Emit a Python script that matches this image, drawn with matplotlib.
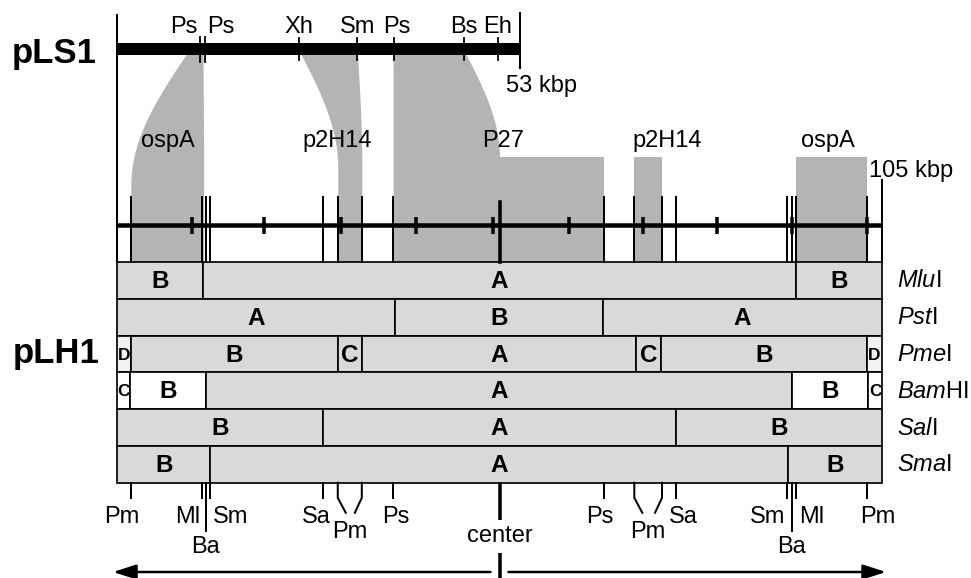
import numpy as np
import matplotlib
matplotlib.use('Agg')
import matplotlib.pyplot as plt
from matplotlib.patches import Rectangle

plt.rcParams['font.family'] = 'Liberation Sans'
plt.rcParams['mathtext.fontset'] = 'custom'
plt.rcParams['mathtext.rm'] = 'Liberation Sans'
plt.rcParams['mathtext.it'] = 'Liberation Sans:italic'

# ---- data (kbp) ----
lh1_len = 105
lh1_scale_ticks = [10.3, 20.2, 30.7, 41.0, 51.6, 62.0, 72.2, 82.3, 92.6, 102.9]
lh1_sites = ['Pm', 'Ml', 'Ba', 'Sm', 'Sa', 'Pm', 'Pm', 'Ps',
             'Ps', 'Pm', 'Pm', 'Sa', 'Sm', 'Ba', 'Ml', 'Pm']
lh1_site_pos = [1.9, 11.7, 12.2, 12.8, 28.3, 30.3, 33.6, 37.9,
                66.8, 71.0, 74.8, 76.7, 92.0, 92.6, 93.2, 102.9]

ls1_len = 53
ls1_sites = ['Ps', 'Ps', 'Xh', 'Sm', 'Ps', 'Bs', 'Eh']
ls1_site_pos = [10.9, 11.6, 23.9, 31.6, 36.4, 45.6, 50.1]

enzymes = [r'$\mathit{Mlu}$I', r'$\mathit{Pst}$I', r'$\mathit{Pme}$I',
           r'$\mathit{Bam}$HI', r'$\mathit{Sal}$I', r'$\mathit{Sma}$I']
cuts = [[11.8, 93.2],
        [38.1, 66.7],
        [1.9, 30.3, 33.6, 71.2, 74.7, 102.9],
        [1.8, 12.2, 92.6, 103.1],
        [28.3, 76.7],
        [12.8, 92.1]]
frag_labels = [['B', 'A', 'B'],
               ['A', 'B', 'A'],
               ['D', 'B', 'C', 'A', 'C', 'B', 'D'],
               ['C', 'B', 'A', 'B', 'C'],
               ['B', 'A', 'B'],
               ['B', 'A', 'B']]
frag_fill = [['g', 'g', 'g'],
             ['g', 'g', 'g'],
             ['w2', 'g', 'g', 'g', 'g', 'g', 'w2'],
             ['w', 'w', 'g', 'w', 'w'],
             ['g', 'g', 'g'],
             ['g', 'g', 'g']]

genes = ['ospA', 'p2H14', 'P27', 'p2H14', 'ospA']
gene_pos = [7.0, 30.2, 53.0, 75.5, 97.6]

# homology: pLS1 segment -> pLH1 segment, and repeated copies on pLH1
band_ls1 = [(9.5, 11.3), (23.9, 31.6), (36.3, 45.6)]
band_lh1 = [(1.9, 11.9), (30.3, 33.6), (37.9, 52.5)]
repeat_lh1 = [(52.5, 66.8), (71.0, 74.8), (93.2, 102.9)]

# ---- layout (pixels) ----
W, H = 971, 578
x0, ppk = 117, 7.286          # pLH1 origin and px per kbp
ls1_draw = 55.3               # pLS1 drawn length in pLH1 units
s1 = ls1_draw / ls1_len
px = 0.72                     # 1 pixel in points
shade = '#b4b4b4'
fills = {'g': '#d9d9d9', 'w': 'white', 'w2': '#f2f2f2'}
fs = 17

fig = plt.figure(figsize=(W / 100, H / 100), dpi=100)
ax = fig.add_axes([0, 0, 1, 1])
ax.set_xlim(-x0 / ppk, (W - x0) / ppk)
ax.set_ylim(H, 0)
ax.axis('off')

def dx(p):
    return p / ppk

track_y, site_top, box_top, row_h = 225, 197, 262, 36.8
box_bot = box_top + row_h * len(enzymes)

# homology shading
band_top = 50
band_end = [185, 168, 158]
for (a0, a1), (b0, b1), ye in zip(band_ls1, band_lh1, band_end):
    y = np.linspace(band_top, ye, 80)
    f = np.sin((y - band_top) / (ye - band_top) * np.pi / 2)
    xl = a0 * s1 + (b0 - a0 * s1) * f
    xr = a1 * s1 + (b1 - a1 * s1) * f
    y = np.append(y, box_top)
    xl = np.append(xl, b0)
    xr = np.append(xr, b1)
    ax.fill_betweenx(y, xl, xr, color=shade, lw=0, zorder=1)
for a, b in repeat_lh1:
    ax.add_patch(Rectangle((a, 157), b - a, box_top - 157, color=shade, lw=0, zorder=1))

# pLS1 map
ax.add_patch(Rectangle((0, 43), ls1_draw, 12, color='k', lw=0, zorder=3))
ax.plot([0, 0], [15, box_top], color='k', lw=2 * px, zorder=3)
ax.plot([ls1_draw, ls1_draw], [13, 68], color='k', lw=2 * px, zorder=3)
ls1_ha = ['right', 'left', 'center', 'center', 'center', 'center', 'center']
ls1_dx = [-2, 2, 0, 0, 3, 0, 0]
for i, (name, p) in enumerate(zip(ls1_sites, ls1_site_pos)):
    top = 37 if i < 2 else 38
    bot = 62 if i < 2 else 60
    ax.plot([p * s1, p * s1], [top, bot], color='k', lw=1.8 * px, zorder=3)
    ax.text(p * s1 + dx(ls1_dx[i]), 33, name, ha=ls1_ha[i], va='baseline', fontsize=fs)
ax.text(ls1_draw - dx(14), 92, '53 kbp', ha='left', va='baseline', fontsize=fs)
ax.text(-x0 / ppk + dx(54), 63, 'pLS1', ha='center', va='baseline', fontsize=25, fontweight='bold')

# pLH1 map line
ax.plot([0, lh1_len], [track_y, track_y], color='k', lw=4.5 * px, zorder=3, solid_capstyle='butt')
for t in lh1_scale_ticks:
    ax.plot([t, t], [217, 234], color='k', lw=3.5 * px, zorder=3, solid_capstyle='butt')
for p in lh1_site_pos:
    ax.plot([p, p], [site_top, box_top], color='k', lw=2 * px, zorder=3)
ax.plot([lh1_len / 2, lh1_len / 2], [202, box_top], color='k', lw=3.5 * px, zorder=3)
ax.plot([lh1_len, lh1_len], [180, box_top], color='k', lw=2 * px, zorder=3)
ax.text(lh1_len - dx(13), 177, '105 kbp', ha='left', va='baseline', fontsize=fs)
for g, p in zip(genes, gene_pos):
    ax.text(p, 147, g, ha='center', va='baseline', fontsize=fs, zorder=4)

# restriction fragment rows
for r, (name, c, labs, fl) in enumerate(zip(enzymes, cuts, frag_labels, frag_fill)):
    y = box_top + r * row_h
    edges = [0] + c + [lh1_len]
    for k in range(len(labs)):
        a, b = edges[k], edges[k + 1]
        ax.add_patch(Rectangle((a, y), b - a, row_h, facecolor=fills[fl[k]],
                               edgecolor='k', lw=1.7 * px, zorder=2))
        small = (b - a) < 2.5
        ax.text((a + b) / 2, y + row_h / 2 + 1, labs[k], ha='center', va='center',
                fontsize=12.5 if small else 17.5, fontweight='bold', zorder=4)
    ax.text(lh1_len + dx(15), y + row_h / 2 + 1, name, ha='left', va='center', fontsize=fs)
ax.text(-x0 / ppk + dx(56), 363, 'pLH1', ha='center', va='baseline', fontsize=25, fontweight='bold')

# bottom site ticks and labels
pairs = [(5, 6), (9, 10)]
paired = [i for pr in pairs for i in pr]
tick_bot = box_bot + 15
for i, p in enumerate(lh1_site_pos):
    if lh1_sites[i] == 'Ba':
        ax.plot([p, p], [box_bot, box_bot + 48], color='k', lw=2 * px, zorder=3)
    elif i not in paired:
        ax.plot([p, p], [box_bot, tick_bot], color='k', lw=2 * px, zorder=3)
for i, j in pairs:
    pi, pj = lh1_site_pos[i], lh1_site_pos[j]
    ax.plot([pi, pi, pi + dx(8)], [box_bot, tick_bot, tick_bot + 15], color='k', lw=2 * px, zorder=3)
    ax.plot([pj, pj, pj - dx(7)], [box_bot, tick_bot, tick_bot + 15], color='k', lw=2 * px, zorder=3)
    ax.text((pi + pj) / 2, 538, 'Pm', ha='center', va='baseline', fontsize=fs)

lab_dx = [-9, -2, 0, 3, -7, 0, 0, 3, -4, 0, 0, 7, -2, 0, 3, 11]
lab_ha = ['center', 'right', 'center', 'left', 'center', 'center', 'center', 'center',
          'center', 'center', 'center', 'center', 'right', 'center', 'left', 'center']
for i, (name, p) in enumerate(zip(lh1_sites, lh1_site_pos)):
    if i in paired:
        continue
    base = 553 if name == 'Ba' else 523
    ax.text(p + dx(lab_dx[i]), base, name, ha=lab_ha[i], va='baseline', fontsize=fs)

c = lh1_len / 2
ax.plot([c, c], [box_bot, 520], color='k', lw=3.5 * px, zorder=3, solid_capstyle='butt')
ax.text(c, 542, 'center', ha='center', va='baseline', fontsize=fs)
ax.plot([c, c], [553, H], color='k', lw=3.5 * px, zorder=3, solid_capstyle='butt')

# arrows
arrow_y = 572
gap = dx(9)
for tip, start in [(-dx(4), c - gap), (lh1_len + dx(4), c + gap)]:
    ax.annotate('', xy=(tip, arrow_y), xytext=(start, arrow_y),
                arrowprops=dict(arrowstyle='-|>,head_length=1.4,head_width=0.45',
                                color='k', lw=2.5 * px, shrinkA=0, shrinkB=0))

fig.savefig('out.png', dpi=100)
